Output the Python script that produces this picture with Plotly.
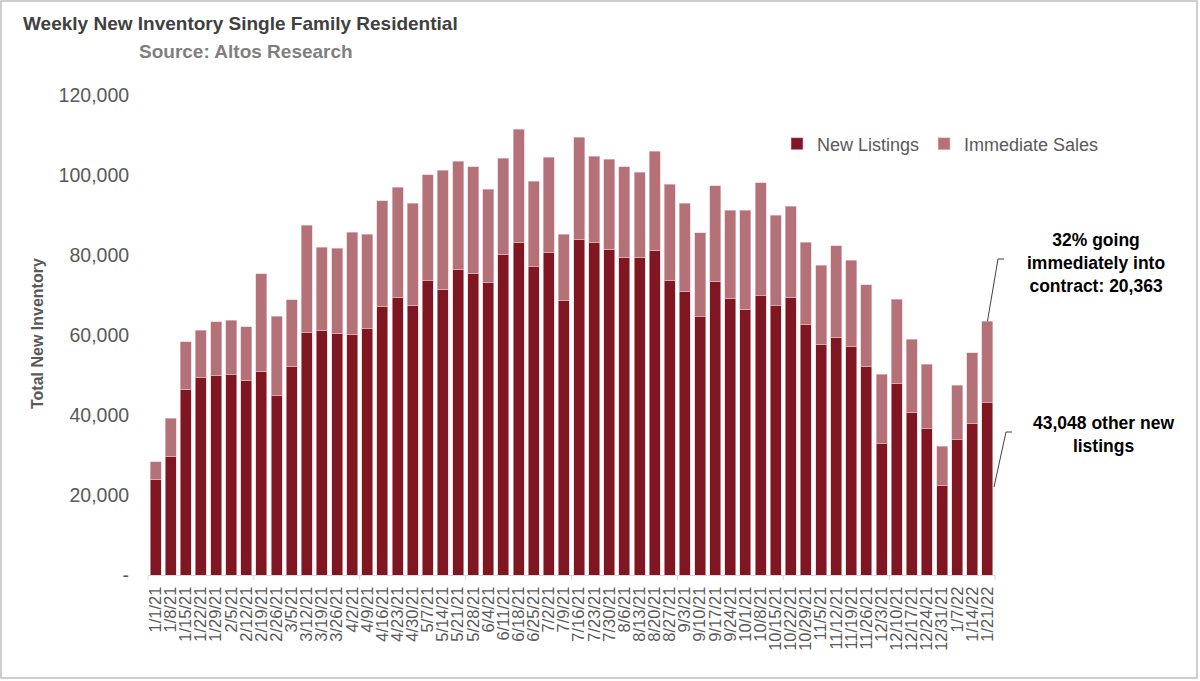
import plotly.graph_objects as go

weeks = ["1/1/21", "1/8/21", "1/15/21", "1/22/21", "1/29/21", "2/5/21", "2/12/21", "2/19/21",
         "2/26/21", "3/5/21", "3/12/21", "3/19/21", "3/26/21", "4/2/21", "4/9/21", "4/16/21",
         "4/23/21", "4/30/21", "5/7/21", "5/14/21", "5/21/21", "5/28/21", "6/4/21", "6/11/21",
         "6/18/21", "6/25/21", "7/2/21", "7/9/21", "7/16/21", "7/23/21", "7/30/21", "8/6/21",
         "8/13/21", "8/20/21", "8/27/21", "9/3/21", "9/10/21", "9/17/21", "9/24/21", "10/1/21",
         "10/8/21", "10/15/21", "10/22/21", "10/29/21", "11/5/21", "11/12/21", "11/19/21",
         "11/26/21", "12/3/21", "12/10/21", "12/17/21", "12/24/21", "12/31/21", "1/7/22",
         "1/14/22", "1/21/22"]

new_listings = [23900, 29750, 46500, 49400, 49900, 50100, 48700, 51000, 44800, 52250,
                60700, 61250, 60500, 60200, 61600, 67200, 69400, 67400, 73600, 71500,
                76400, 75400, 73100, 80250, 83200, 77100, 80700, 68700, 83900, 83200,
                81400, 79400, 79500, 81250, 73750, 71000, 64600, 73500, 69200, 66400,
                69800, 67300, 69400, 62700, 57750, 59400, 57200, 52250, 32800, 47900,
                40750, 36600, 22400, 33800, 37900, 43048]

totals = [28300, 39200, 58300, 61250, 63300, 63750, 62100, 75300, 64750, 68800,
          87400, 82000, 81700, 85700, 85200, 93600, 96900, 92900, 100100, 101250,
          103400, 102100, 96400, 104200, 111400, 98400, 104500, 85200, 109400, 104750,
          103900, 102100, 100700, 106000, 97750, 93000, 85600, 97300, 91250, 91200,
          98100, 89900, 92200, 83250, 77400, 82300, 78750, 72600, 50200, 69000,
          59000, 52700, 32250, 47400, 55600, 63411]

immediate_sales = [t - n for t, n in zip(totals, new_listings)]

y_ticks = [0, 20000, 40000, 60000, 80000, 100000, 120000]
y_tick_text = ["-", "20,000", "40,000", "60,000", "80,000", "100,000", "120,000"]

DARK = "#801622"
LIGHT = "#B57178"
FONT = "Liberation Sans, Arial, sans-serif"

fig = go.Figure()
fig.add_trace(go.Bar(x=weeks, y=new_listings, name="New Listings",
                     marker=dict(color=DARK, line=dict(color="#E8C8CB", width=0.6))))
fig.add_trace(go.Bar(x=weeks, y=immediate_sales, name="Immediate Sales",
                     marker=dict(color=LIGHT, line=dict(color="#E8C8CB", width=0.6))))

# plot area geometry (pixels) for paper conversions of decorations
L, R, T, B = 148, 995, 95, 575
W, H = R - L, B - T
YMAX = 120000


def px(x):
    return (x - L) / W


def py(y):
    return (B - y) / H


shapes = []
# outer frame
shapes.append(dict(type="rect", xref="paper", yref="paper",
                   x0=px(1), x1=px(1197), y0=py(1), y1=py(678),
                   line=dict(color="#BFBFBF", width=1.5), fillcolor="rgba(0,0,0,0)", layer="below"))
# x-axis group tick marks every 7 weeks
n = len(weeks)
for k in range(0, n + 1, 7):
    xx = k / n
    shapes.append(dict(type="line", xref="paper", yref="paper", x0=xx, x1=xx,
                       y0=0, y1=py(B + 5), line=dict(color="#D9D9D9", width=1)))
# callout lines
last_x = (n - 0.5) / n
last_total_y = totals[-1] / YMAX
shapes.append(dict(type="path", xref="paper", yref="paper",
                   path=f"M {last_x},{last_total_y} L {px(998)},{py(259)} L {px(1004)},{py(259)}",
                   line=dict(color="#404040", width=1)))
shapes.append(dict(type="path", xref="paper", yref="paper",
                   path=f"M {px(994)},{py(487)} L {px(1006)},{py(432)} L {px(1012)},{py(432)}",
                   line=dict(color="#404040", width=1)))

annotations = [
    dict(text="<b>Weekly New Inventory Single Family Residential</b>", xref="paper", yref="paper",
         x=px(21), y=py(23), xanchor="left", yanchor="middle", showarrow=False,
         font=dict(family=FONT, size=19, color="#404040")),
    dict(text="<b>Source: Altos Research</b>", xref="paper", yref="paper",
         x=px(246), y=py(52), xanchor="center", yanchor="middle", showarrow=False,
         font=dict(family=FONT, size=19, color="#7F7F7F")),
    dict(text="<b>32% going<br>immediately into<br>contract: 20,363</b>", xref="paper", yref="paper",
         x=px(1096), y=py(263), xanchor="center", yanchor="middle", showarrow=False,
         font=dict(family=FONT, size=17.5, color="#000000"), align="center"),
    dict(text="<b>43,048 other new<br>listings</b>", xref="paper", yref="paper",
         x=px(1103), y=py(435), xanchor="center", yanchor="middle", showarrow=False,
         font=dict(family=FONT, size=17.5, color="#000000"), align="center"),
    dict(text="<b>Total New Inventory</b>", xref="paper", yref="paper",
         x=px(37), y=py(334), xanchor="center", yanchor="middle", showarrow=False, textangle=-90,
         font=dict(family=FONT, size=16, color="#595959")),
]

fig.update_layout(
    width=1200, height=681,
    margin=dict(l=L, r=1200 - R, t=T, b=681 - B),
    barmode="stack", bargap=0.27,
    plot_bgcolor="white", paper_bgcolor="white",
    font=dict(family=FONT, color="#595959"),
    showlegend=True,
    legend=dict(orientation="h", x=px(777), y=py(144), xanchor="left", yanchor="middle",
                font=dict(family=FONT, size=18, color="#595959"), traceorder="normal",
                itemwidth=30, bgcolor="rgba(0,0,0,0)"),
    shapes=shapes,
    annotations=annotations,
)
fig.update_xaxes(type="category", showgrid=False, showline=True, linecolor="#D9D9D9", linewidth=1,
                 tickmode="array", tickvals=weeks, ticktext=weeks,
                 tickangle=-90, tickfont=dict(family=FONT, size=16.5, color="#595959"),
                 ticks="", ticklabelstandoff=4)
fig.update_yaxes(range=[0, YMAX], tickvals=y_ticks, ticktext=y_tick_text, showgrid=False,
                 showline=False, zeroline=False, ticks="outside", ticklen=14,
                 tickcolor="rgba(0,0,0,0)",
                 tickfont=dict(family=FONT, size=19.5, color="#595959"))

fig.write_html("out.html", config={"displayModeBar": False},
               post_script="document.body.style.margin='0';")
